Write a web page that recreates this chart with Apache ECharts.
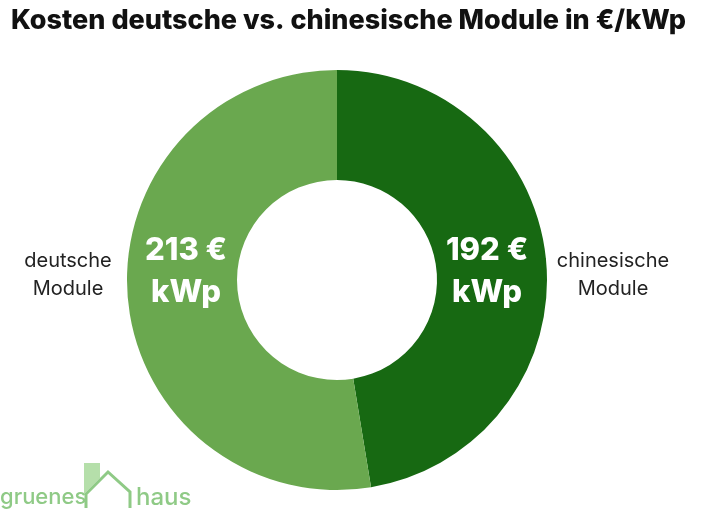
<!DOCTYPE html>
<html><head><meta charset="utf-8">
<script src="https://cdn.jsdelivr.net/npm/echarts@6/dist/echarts.min.js"></script>
<style>html,body{margin:0;padding:0;background:#fff}#main{width:702px;height:515px}</style>
</head><body><div id="main"></div>
<script>
// Daten
var titel = 'Kosten deutsche vs. chinesische Module in €/kWp';
var kategorien = ['chinesische\nModule', 'deutsche\nModule'];
var werte = [192, 213];
var farben = ['#176912', '#6aa84f'];

var myChart = echarts.init(document.getElementById('main'));

var daten = werte.map(function (v, i) {
  return { name: kategorien[i], value: v, itemStyle: { color: farben[i] } };
});
var datenLeer = werte.map(function (v, i) {
  return { name: kategorien[i], value: v, itemStyle: { color: 'rgba(0,0,0,0)' } };
});

var option = {
  backgroundColor: '#fff',
  animation: false,
  title: {
    text: titel, left: 6, top: 2,
    textStyle: { fontFamily: 'Inter', fontWeight: 800, fontSize: 27, color: '#111' }
  },
  series: [{
    type: 'pie',
    center: [337, 280],
    radius: [100, 210],
    startAngle: 90,
    clockwise: true,
    data: daten,
    label: {
      position: 'inside',
      formatter: '{c} €\nkWp',
      color: '#fff', fontFamily: 'Inter', fontWeight: 800, fontSize: 31, lineHeight: 42
    },
    labelLayout: function (p) {
      return { x: p.dataIndex === 0 ? 487 : 186, y: 272, align: 'center', verticalAlign: 'middle' };
    },
    emphasis: { disabled: true }
  }, {
    type: 'pie',
    center: [337, 280],
    radius: [100, 210],
    startAngle: 90,
    data: datenLeer,
    label: {
      position: 'outside', formatter: '{b}', overflow: 'none', width: 200,
      color: '#222', fontFamily: 'Inter', fontSize: 20, lineHeight: 28
    },
    labelLine: { show: false },
    labelLayout: function (p) {
      return { x: p.dataIndex === 0 ? 613 : 68, y: 275, align: 'center', verticalAlign: 'middle' };
    },
    silent: true
  }],
  graphic: [
    { type: 'polygon', shape: { points: [[84, 463], [100, 463], [100, 478], [84, 494]] },
      style: { fill: '#b5dfaa' } },
    { type: 'polyline', shape: { points: [[86, 508], [86, 494], [108, 472], [130, 492], [130, 508]] },
      style: { stroke: '#8fca86', lineWidth: 3, fill: null } },
    { type: 'text', left: 0, top: 486,
      style: { text: 'gruenes', fill: '#8fca86', font: '500 22px Inter' } },
    { type: 'text', left: 136, top: 486,
      style: { text: 'haus', fill: '#8fca86', font: '500 24px Inter' } }
  ]
};
myChart.setOption(option);
</script></body></html>
